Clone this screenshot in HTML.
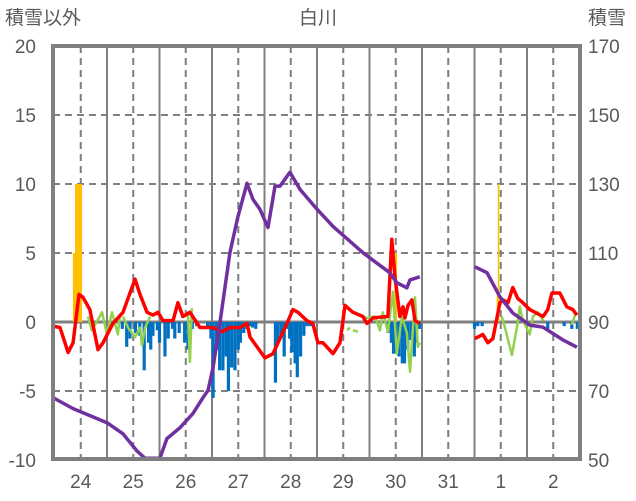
<!DOCTYPE html>
<html><head><meta charset="utf-8">
<style>
body{margin:0;background:#fff;}
svg{display:block;font-family:"Liberation Sans","Noto Sans CJK JP",sans-serif;}
</style></head>
<body>
<svg id="chart" width="636" height="501" viewBox="0 0 636 501" xmlns="http://www.w3.org/2000/svg">
<text x="5" y="24" font-size="19" fill="#595959">積雪以外</text>
<text x="318" y="24" font-size="19" fill="#595959" text-anchor="middle">白川</text>
<text x="588" y="24" font-size="19" fill="#595959">積雪</text>
<g id="grid"></g><g id="bars"></g><g id="lines"></g><g id="axes"></g>
</svg>
<script>
const dayLabels=["24","25","26","27","28","29","30","31","1","2"];
const leftTicks=[20,15,10,5,0,-5,-10];
const rightTicks=[170,150,130,110,90,70,50];
const orangeHours=[-15,-14,-13,-12,132,178.5,179];
const orangeVals=[5,10,10,10,5,2,10];
const blueHours=[7,9,10.5,13,15,17,19,20,21,23,24,26.5,28,30,31,33,35.5,37,39,41,46,47.5,48.5,50,51.5,53,54.5,55.5,57,58.5,60,61,62.5,64,65.5,66.5,68,77,78,79.5,81,82,83.5,84.5,86,87,88.5,90,91.5,93,128.5,130,131,132,133.5,135,136,137.5,139,140.5,141.5,143,168,169.5,171.5,201.5,209,212.5,215];
const blueVals=[-0.5,-1.8,-1.2,-0.8,-1.0,-3.5,-1.5,-2.0,-1.0,-0.6,-1.5,-2.5,-1.2,-0.5,-1.2,-0.8,-1.5,-2.0,-0.5,-0.3,-0.5,-1.2,-5.5,-2.0,-3.5,-3.5,-2.5,-5.0,-3.3,-3.5,-2.0,-1.5,-0.8,-0.5,-0.3,-0.4,-0.5,-4.4,-1.5,-1.0,-2.5,-0.5,-1.2,-2.2,-3.0,-4.0,-2.5,-1.0,-0.3,-0.3,-0.8,-1.5,-2.3,-2.0,-2.5,-3.0,-3.0,-2.0,-1.3,-2.5,-1.5,-0.5,-0.5,-0.3,-0.3,-0.5,-0.3,-0.5,-0.5];
const redHours=[-24.7,-21.5,-17.8,-15.5,-12.8,-11,-7.8,-4.1,-1.8,2.7,7.3,10.5,12.8,15.1,18.3,21,23.3,25.6,30.2,32.4,34.7,37.9,42.5,48.4,52.6,56.2,60.8,64,65.4,72.2,75.9,82.3,85,87.3,91.4,94.1,96.4,98.7,103.3,106.5,108.8,112.4,117,118.8,121.6,128.4,130.2,131.6,133.9,135.3,136.2,137.6,139.4,140.8,143,null,168.2,171.8,174.1,176.4,179.6,181,183.3,185.5,187.8,190.1,193.3,199.3,201.5,203.4,207,210.2,213,214.8];
const redVals=[-0.3,-0.4,-2.2,-1.5,2.0,1.8,0.9,-2.0,-1.5,-0.1,0.7,2.1,3.1,2.0,0.7,0.5,0.7,0.1,0.1,1.4,0.4,0.7,-0.4,-0.4,-0.7,-0.4,-0.4,-0.1,-1.1,-2.6,-2.3,-0.1,0.9,0.7,0.1,-0.1,-1.5,-1.5,-2.3,-1.5,1.2,0.7,0.4,-0.1,0.3,0.4,6.0,3.3,0.4,1.1,0.3,1.2,1.6,0.1,-0.1,null,-1.2,-0.9,-1.5,-1.2,1.4,1.6,1.4,2.5,1.7,1.4,0.9,0.4,0.9,2.1,2.1,1.1,0.9,0.5];
const greenHours=[-8.7,-6.9,-2.3,0,2.3,5,5.9,null,7.3,9.6,12.8,15.1,16,17.4,19.7,null,37,37.9,38.8,null,109.7,111.1,null,112.4,114.7,null,116.5,118.8,122.5,124.8,126.1,128.4,130.7,132.5,134.8,137.1,138.5,140.8,142.1,143,null,180.5,181.9,185.1,187.4,188.7,190.1,193.3,194.7,197,199.3,null,212.5,213.9];
const greenVals=[0.4,-0.6,0.7,-0.9,0.7,-0.9,0.5,null,0.4,-0.4,-1.1,-0.4,-1.7,-0.4,0.4,null,0.7,-2.9,1.0,null,-0.6,-0.4,null,-0.6,-0.7,null,0.4,0.3,0.4,-0.6,0.7,-0.7,2.2,-2.3,0.4,-0.8,-3.6,1.8,-1.8,-1.5,null,0.4,-0.4,-2.4,-0.4,1.1,0.1,-0.9,0.4,0.7,0.1,null,-0.2,0.5];
const snowHours=[-24.7,-15.5,0,7.3,13.7,17.4,24.2,27.4,33.4,39.3,43.9,46.2,48.5,51.6,56.2,59.9,64,66.7,69.9,73.6,76.8,79.1,83.6,88.2,96,103.3,106.5,117,129.3,132.5,137.1,138.5,143,null,168.2,173.7,179.6,185.5,193.3,199.3,208.4,214.8];
const snowVals=[68.1,64.9,60.8,57.6,52.6,50.5,50.5,56.2,59.4,63.5,68.1,70.2,76.9,89.7,110.1,120.6,130.2,125.6,122.7,117.4,129.4,129.4,133.4,128.5,122.7,117.7,115.9,110.1,104.3,101.4,99.9,102.2,103.1,null,106,104.3,97.3,92.6,89.1,88.5,84.8,82.7];

const L=53,R=580,T=46,B=459;
const x=h=>107+h*52.5/24;
const yL=v=>322-v*(322-T)/20;
const yR=v=>yL((v-90)/4);
const NS="http://www.w3.org/2000/svg";
function mk(tag,parent,attrs){const e=document.createElementNS(NS,tag);for(const k in attrs)e.setAttribute(k,attrs[k]);document.getElementById(parent).appendChild(e);return e;}

dayLabels.forEach((d,i)=>{
  const xm=x(i*24), xn=x(i*24-12);
  if(xm<R-2){const g=mk('line','grid',{x1:xm,x2:xm,y1:T,y2:B,stroke:'#7f7f7f','stroke-width':2});
  
  }
  const g2=mk('line','grid',{x1:xn,x2:xn,y1:T,y2:B,stroke:'#7f7f7f','stroke-width':2,'stroke-dasharray':'7,5'});
  
  
  const t=mk('text','axes',{x:xn,y:488,'font-size':19,fill:'#595959','text-anchor':'middle'});
  t.textContent=d;
  
  
});
leftTicks.forEach((v,i)=>{
  const yy=yL(v);
  if(v!==20&&v!==-10){const g=mk('line','grid',{x1:L,x2:R,y1:yy,y2:yy,stroke:'#7f7f7f','stroke-width':v===0?3:2,'stroke-dasharray':v===0?'none':'7,5'});
  
  }
  const t=mk('text','axes',{x:36,y:yy+7,'font-size':19,fill:'#595959','text-anchor':'end'});
  t.textContent=v;
  
  
  const t2=mk('text','axes',{x:588,y:yR(rightTicks[i])+7,'font-size':19,fill:'#595959'});
  t2.textContent=rightTicks[i];
  
  
});
orangeHours.forEach((h,i)=>{
  const v=orangeVals[i];const w=h>150?1.6:2.6;
  const r=mk('rect','bars',{x:x(h)-w/2,y:yL(v),width:w,height:yL(0)-yL(v),fill:'#FFC000'});
  
  
});
blueHours.forEach((h,i)=>{
  const v=blueVals[i];
  const r=mk('rect','bars',{x:x(h)-1.6,y:yL(0),width:3.2,height:yL(v)-yL(0),fill:'#0070C0'});
  
  
});
function path(hs,vs,yf){let d='',pen=false;hs.forEach((h,i)=>{if(h===null||vs[i]===null){pen=false;return;}d+=(pen?'L':'M')+x(h).toFixed(1)+','+yf(vs[i]).toFixed(1);pen=true;});return d;}
const gp=mk('path','lines',{d:path(greenHours,greenVals,yL),fill:'none',stroke:'#92D050','stroke-width':2.5,'stroke-linejoin':'round'});


const rp=mk('path','lines',{d:path(redHours,redVals,yL),fill:'none',stroke:'#FF0000','stroke-width':3.5,'stroke-linejoin':'round'});


const pp=mk('path','lines',{d:path(snowHours,snowVals,yR),fill:'none',stroke:'#7030A0','stroke-width':3.5,'stroke-linejoin':'round'});


const fr=mk('rect','axes',{x:L,y:T,width:R-L,height:B-T,fill:'none',stroke:'#7f7f7f','stroke-width':4});


</script>
</body></html>
